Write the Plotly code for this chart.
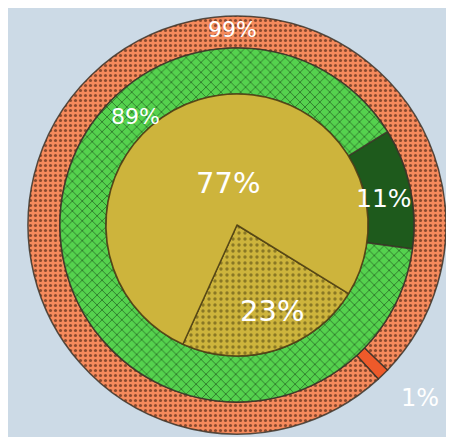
import plotly.graph_objects as go

# ---- data ----
outer_labels = ["Outer minor", "Outer major"]
outer_values = [1, 99]
middle_labels = ["Middle minor", "Middle major"]
middle_values = [11, 89]
inner_labels = ["Inner minor", "Inner major"]
inner_values = [23, 77]

# ---- geometry / style ----
OFF = 8                     # page body margin
W, H = 454 - 2 * OFF, 445 - 2 * OFF
CX, CY = 237 - OFF, 225 - OFF   # pie centre in figure pixels
R_OUT, R_MID, R_IN = 209, 177, 131
BG = "#CCDAE6"
LINE = "rgba(60,50,40,0.85)"
FONT = "'DejaVu Sans', sans-serif"


def dom(r):
    return dict(x=[max(0, (CX - r) / W), min(1, (CX + r) / W)],
                y=[max(0, 1 - (CY + r) / H), min(1, 1 - (CY - r) / H)])


fig = go.Figure()

fig.add_trace(go.Pie(
    labels=outer_labels, values=outer_values, sort=False,
    direction="clockwise", rotation=133.9,
    hole=R_MID / R_OUT, domain=dom(R_OUT),
    marker=dict(
        colors=["#EE5A2A", "#F58A5C"],
        line=dict(color=LINE, width=1.5),
        pattern=dict(shape=["", "."], fgcolor="#8A4A2E",
                     bgcolor=["#EE5A2A", "#F58A5C"], size=5, solidity=0.3),
    ),
    textinfo="none", showlegend=False,
))

fig.add_trace(go.Pie(
    labels=middle_labels, values=middle_values, sort=False,
    direction="clockwise", rotation=58.2,
    hole=R_IN / R_MID, domain=dom(R_MID),
    marker=dict(
        colors=["#1E5A1C", "#55D24E"],
        line=dict(color=LINE, width=1.5),
        pattern=dict(shape=["", "x"], fgcolor="#2F7A2C",
                     bgcolor=["#1E5A1C", "#55D24E"], size=7, solidity=0.25),
    ),
    textinfo="none", showlegend=False,
))

fig.add_trace(go.Pie(
    labels=inner_labels, values=inner_values, sort=False,
    direction="clockwise", rotation=121.6,
    domain=dom(R_IN),
    marker=dict(
        colors=["#CDB43C", "#CDB43C"],
        line=dict(color="rgba(80,65,20,0.9)", width=1.5),
        pattern=dict(shape=[".", ""], fgcolor="#8A7824",
                     bgcolor=["#CDB43C", "#CDB43C"], size=6, solidity=0.25),
    ),
    textinfo="none", showlegend=False,
))

# value labels, placed as in the reference (screen pixels)
label_text = [f"{outer_values[1]}%", f"{middle_values[1]}%", f"{outer_values[0]}%",
              f"{middle_values[0]}%", f"{inner_values[1]}%", f"{inner_values[0]}%"]
label_pos = [(232, 29, 22), (135, 116, 22), (420, 398, 24),
             (384, 198, 25), (228, 183, 29), (272, 311, 29)]
for txt, (px, py, fs) in zip(label_text, label_pos):
    fig.add_annotation(x=(px - OFF) / W, y=1 - (py - OFF) / H,
                       xref="paper", yref="paper",
                       xanchor="center", yanchor="middle",
                       text=txt, showarrow=False,
                       font=dict(color="white", size=fs, family=FONT))

fig.update_layout(width=W, height=H, margin=dict(l=0, r=0, t=0, b=0),
                  paper_bgcolor=BG, plot_bgcolor=BG)

fig.write_html("out.html")
